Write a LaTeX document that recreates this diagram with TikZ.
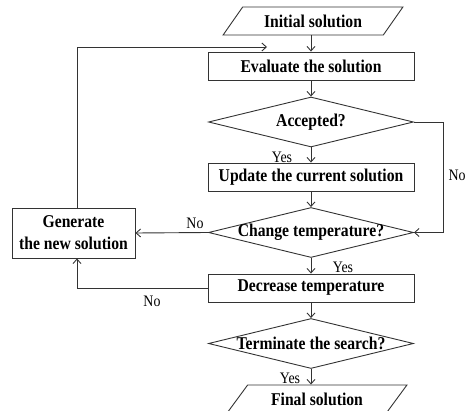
\documentclass[tikz,border=0pt]{standalone}
\usepackage{fontspec}
\setmainfont{Liberation Serif}[FakeStretch=0.87]
\usetikzlibrary{shapes.geometric,arrows.meta}
\tikzset{
  ln/.style={draw=black!80, line width=0.9pt},
  arr/.style={ln, -{Straight Barb[length=4.5pt,width=8pt]}},
  bfnt/.style={font=\fontsize{18}{22}\selectfont\bfseries},
  box/.style={ln, bfnt, rectangle, inner sep=0pt, minimum width=206pt, minimum height=28pt},
  dia/.style={ln, diamond, inner sep=0pt, minimum width=205pt, minimum height=50pt},
  para/.style={ln, bfnt, trapezium, trapezium left angle=43, trapezium right angle=137, trapezium stretches=true, inner sep=0pt, minimum width=180pt, minimum height=28pt},
  btxt/.style={bfnt, inner sep=0pt},
  lbl/.style={font=\fontsize{16}{18}\selectfont, inner sep=0pt},
}
\begin{document}
\begin{tikzpicture}[x=1pt,y=-1pt]
\useasboundingbox (0,0) rectangle (473,411);
\clip (0,0) rectangle (473,411);
\node[para] (init) at (313,21) {Initial solution};
\node[box] (eval) at (311,66) {Evaluate the solution};
\node[dia] (acc) at (311,122) {};
\node[btxt] at (acc) {Accepted?};
\node[box] (upd) at (311,177) {Update the current solution};
\node[dia] (chg) at (311,232.5) {};
\node[btxt] at (chg) {Change temperature?};
\node[box] (dec) at (311,288) {Decrease temperature};
\node[dia] (term) at (311,343.5) {};
\node[btxt] at (term) {Terminate the search?};
\node[para] (fin) at (317,399) {Final solution};
\node[ln, bfnt, rectangle, inner sep=0pt, minimum width=123pt, minimum height=50pt, align=center] (gen) at (73.5,233) {Generate\\the new solution};
\coordinate (loopend) at (267,47);

\draw[arr] (init.south -| eval.north) -- (eval.north);
\draw[arr] (eval.south) -- (acc.north);
\draw[arr] (acc.south) -- (upd.north);
\draw[arr] (upd.south) -- (chg.north);
\draw[arr] (acc.east) -- (443,122) -- (443,232.5) -- (chg.east);
\draw[arr] (chg.west) -- (gen.east);
\draw[arr] (chg.south) -- (dec.north);
\draw[arr] (dec.west) -- (77,288) -- ([xshift=3.5pt]gen.south);
\draw[arr] ([xshift=3.5pt]gen.north) -- (77,47) -- (loopend);
\draw[arr] (dec.south) -- (term.north);
\draw[arr] (term.south) -- (fin.north -| term.south);

\node[lbl] at (282,157) {Yes};
\node[lbl] at (457,175) {No};
\node[lbl] at (195,223) {No};
\node[lbl] at (343,267) {Yes};
\node[lbl] at (152,301) {No};
\node[lbl] at (290,378) {Yes};
\end{tikzpicture}
\end{document}
